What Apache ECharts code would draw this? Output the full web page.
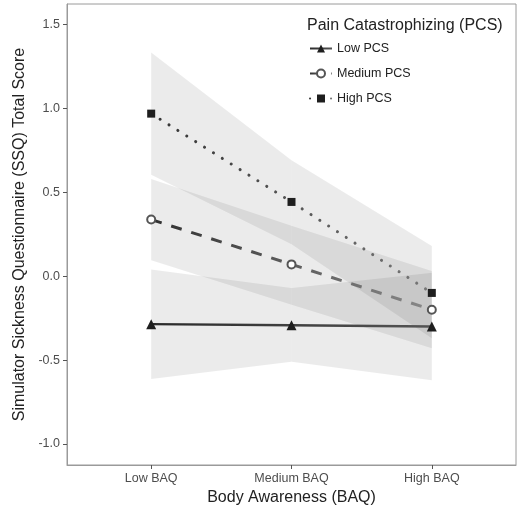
<!DOCTYPE html>
<html>
<head>
<meta charset="utf-8">
<script src="https://cdn.jsdelivr.net/npm/echarts@6/dist/echarts.min.js"></script>
<style>
  html, body { margin: 0; padding: 0; background: #fff; }
  #chart { width: 519px; height: 508px; }
</style>
</head>
<body>
<div id="chart"></div>
<script>
// categories on the x axis (positions 0, 1, 2)
var categories = ['Low BAQ', 'Medium BAQ', 'High BAQ'];
var yTicks = [-1.0, -0.5, 0.0, 0.5, 1.0, 1.5];

// estimated marginal means
var lowPcs = [-0.286, -0.293, -0.30];
var medPcs = [0.337, 0.07, -0.20];
var highPcs = [0.968, 0.442, -0.10];

// confidence bands (lower / upper)
var lowLo = [-0.612, -0.51, -0.62];
var lowHi = [0.04, -0.07, 0.02];
var medLo = [0.095, -0.17, -0.43];
var medHi = [0.579, 0.30, 0.03];
var highLo = [0.604, 0.19, -0.37];
var highHi = [1.332, 0.69, 0.18];

var font = 'Liberation Sans, Arial, sans-serif';

function pts(arr) {
	return arr.map(function(v, i) { return [i, v]; });
}

// band drawn as one quad per segment, positions from the axes
function band(key, lo, hi) {
	var rows = [];
	for (var i = 0; i < lo.length - 1; i++) {
		rows.push([i, lo[i], hi[i], lo[i + 1], hi[i + 1]]);
	}
	return {
		name : key + '_band',
		type : 'custom',
		silent : true,
		z : 1,
		data : rows,
		encode : { x : 0, y : [1, 2, 3, 4] },
		renderItem : function(params, api) {
			var x = api.value(0);
			var p = [
				api.coord([x, api.value(1)]),
				api.coord([x + 1, api.value(3)]),
				api.coord([x + 1, api.value(4)]),
				api.coord([x, api.value(2)])
			];
			return {
				type : 'polygon',
				shape : { points : p },
				style : { fill : 'rgba(0,0,0,0.08)', stroke : 'none' }
			};
		}
	};
}

function grad(a, b) {
	return new echarts.graphic.LinearGradient(0, 0, 1, 0, [
		{ offset : 0, color : a },
		{ offset : 1, color : b }
	]);
}

var myChart = echarts.init(document.getElementById('chart'));

var series = [ band('low', lowLo, lowHi), band('med', medLo, medHi), band('high', highLo, highHi) ];

series.push({
	name : 'Low PCS',
	type : 'line',
	data : pts(lowPcs),
	symbol : 'triangle',
	symbolSize : 10,
	itemStyle : { color : '#1e1e1e' },
	lineStyle : { color : grad('#2a2a2a', '#555'), width : 2.4 },
	z : 5
});
series.push({
	name : 'Medium PCS',
	type : 'line',
	data : pts(medPcs),
	symbol : 'emptyCircle',
	symbolSize : 8,
	itemStyle : { color : '#555', borderWidth : 1 },
	lineStyle : { color : grad('#303030', '#8a8a8a'), width : 3, type : [11, 10] },
	z : 5
});
series.push({
	name : 'High PCS',
	type : 'line',
	data : pts(highPcs),
	symbol : 'rect',
	symbolSize : 8,
	itemStyle : { color : '#1e1e1e' },
	lineStyle : { color : grad('#333', '#777'), width : 3, type : [0.1, 10.4], cap : 'round' },
	z : 5
});

var option = {
	animation : false,
	textStyle : { fontFamily : font },
	grid : {
		left : 67,
		top : 4,
		right : 3,
		bottom : 43,
		containLabel : false,
		outerBoundsMode : 'none',
		show : true,
		borderColor : '#9a9a9a',
		borderWidth : 1,
		backgroundColor : 'transparent'
	},
	title : {
		text : 'Pain Catastrophizing (PCS)',
		left : 302,
		top : 13,
		textStyle : { fontFamily : font, fontSize : 16, fontWeight : 'normal', color : '#222' }
	},
	legend : {
		data : [ 'Low PCS', 'Medium PCS', 'High PCS' ],
		orient : 'vertical',
		left : 304,
		top : 37,
		itemWidth : 22,
		itemHeight : 10,
		itemGap : 12,
		textStyle : { fontFamily : font, fontSize : 12.5, color : '#222' }
	},
	xAxis : {
		type : 'value',
		min : -0.6,
		max : 2.6,
		name : 'Body Awareness (BAQ)',
		nameLocation : 'middle',
		nameGap : 23,
		nameTextStyle : { fontFamily : font, fontSize : 16, color : '#222' },
		splitLine : { show : false },
		axisLine : { show : true, onZero : false, lineStyle : { color : '#9a9a9a' } },
		axisTick : {
			show : true,
			length : 4,
			customValues : [ 0, 1, 2 ],
			lineStyle : { color : '#555' }
		},
		axisLabel : {
			customValues : [ 0, 1, 2 ],
			formatter : function(v) { return categories[Math.round(v)]; },
			margin : 7,
			fontSize : 12.5,
			color : '#4d4d4d'
		}
	},
	yAxis : {
		type : 'value',
		min : -1.125,
		max : 1.621,
		name : 'Simulator Sickness Questionnaire (SSQ) Total Score',
		nameLocation : 'middle',
		nameGap : 37,
		nameTextStyle : { fontFamily : font, fontSize : 16, color : '#222' },
		splitLine : { show : false },
		axisLine : { show : true, onZero : false, lineStyle : { color : '#9a9a9a' } },
		axisTick : {
			show : true,
			length : 4,
			customValues : yTicks,
			lineStyle : { color : '#555' }
		},
		axisLabel : {
			customValues : yTicks,
			formatter : function(v) { return v.toFixed(1); },
			margin : 7,
			fontSize : 12.5,
			color : '#4d4d4d'
		}
	},
	series : series
};

myChart.setOption(option);
</script>
</body>
</html>
